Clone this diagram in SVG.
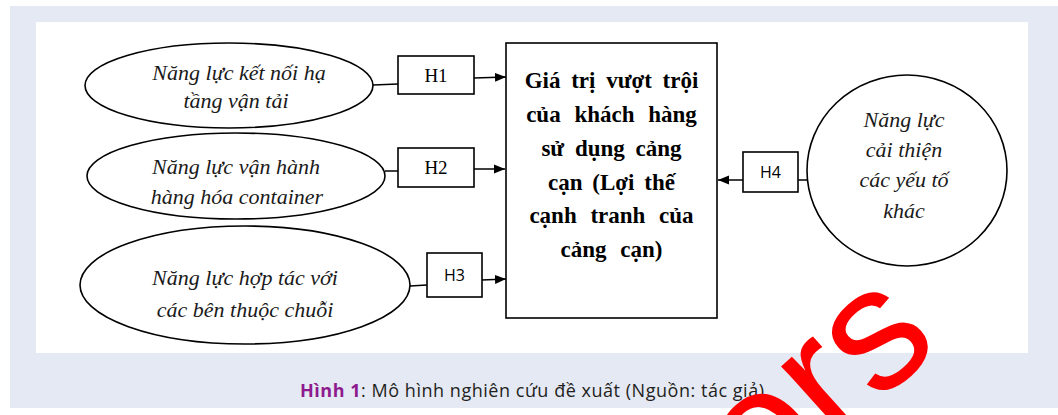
<svg xmlns="http://www.w3.org/2000/svg" width="1058" height="415" viewBox="0 0 1058 415">
  <defs>
    <style>
      .line { stroke: #000; stroke-width: 1.5; fill: none; }
      .shape { stroke: #000; stroke-width: 1.6; fill: #fff; }
      .it { font-family: "Liberation Serif", "DejaVu Serif", "Times New Roman", serif; font-style: italic; font-size: 22px; fill: #1a1a1a; text-anchor: middle; }
      .main { font-family: "Liberation Serif", "DejaVu Serif", "Times New Roman", serif; font-weight: bold; font-size: 23px; fill: #000; text-anchor: middle; }
      .hs { font-family: "Liberation Serif", "Times New Roman", serif; font-size: 19px; fill: #000; text-anchor: middle; }
      .hn { font-family: "Open Sans", "Liberation Sans", sans-serif; font-size: 16px; fill: #000; text-anchor: middle; }
      .cap { font-family: "Open Sans", "Liberation Sans", sans-serif; font-size: 18px; fill: #231f20; }
    </style>
    <marker id="arrow" markerUnits="userSpaceOnUse" markerWidth="12" markerHeight="10" refX="11" refY="5" orient="auto">
      <path d="M0,0.5 L11,5 L0,9.5 z" fill="#000"/>
    </marker>
  </defs>

  <!-- page background and figure panel -->
  <rect x="0" y="0" width="1058" height="415" fill="#ffffff"/>
  <rect x="10" y="6" width="1048" height="402" fill="#e5e9f4"/>
  <rect x="36" y="22" width="992" height="331" fill="#ffffff"/>

  <!-- connectors -->
  <g id="connectors">
    <path class="line" d="M373,85 L398,84"/>
    <path class="line" d="M474,78 L506,77" marker-end="url(#arrow)"/>
    <path class="line" d="M385,171 L398,171"/>
    <path class="line" d="M474,169 L505,169" marker-end="url(#arrow)"/>
    <path class="line" d="M410,286 L427,285"/>
    <path class="line" d="M482,280 L506,279" marker-end="url(#arrow)"/>
    <path class="line" d="M798,180 L807,180"/>
    <path class="line" d="M743,180 L718,180" marker-end="url(#arrow)"/>
  </g>

  <!-- left factors -->
  <g id="node-ket-noi">
    <ellipse class="shape" cx="229" cy="85.5" rx="144" ry="42.5"/>
    <text class="it" x="239" y="80">Năng lực kết nối hạ</text>
    <text class="it" x="236" y="108">tầng vận tải</text>
  </g>
  <g id="node-van-hanh">
    <ellipse class="shape" cx="236" cy="176" rx="149" ry="43"/>
    <text class="it" x="236" y="174">Năng lực vận hành</text>
    <text class="it" x="237" y="204">hàng hóa container</text>
  </g>
  <g id="node-hop-tac">
    <ellipse class="shape" cx="245" cy="285" rx="165" ry="59"/>
    <text class="it" x="245" y="285">Năng lực hợp tác với</text>
    <text class="it" x="245" y="317">các bên thuộc chuỗi</text>
  </g>

  <!-- hypothesis labels -->
  <g id="node-h1">
    <rect class="shape" x="398" y="56" width="76" height="38"/>
    <text class="hs" x="436" y="82">H1</text>
  </g>
  <g id="node-h2">
    <rect class="shape" x="398" y="148" width="76" height="39"/>
    <text class="hs" x="436" y="174">H2</text>
  </g>
  <g id="node-h3">
    <rect class="shape" x="427" y="253" width="55" height="44"/>
    <text class="hn" x="454.5" y="281">H3</text>
  </g>
  <g id="node-h4">
    <rect class="shape" x="743" y="152" width="55" height="40"/>
    <text class="hn" x="770.5" y="178">H4</text>
  </g>

  <!-- outcome -->
  <g id="node-gia-tri">
    <rect class="shape" x="506" y="43" width="211" height="275"/>
    <text class="main" x="611.5" y="88" word-spacing="5">Giá trị vượt trội</text>
    <text class="main" x="611.5" y="122" word-spacing="8">của khách hàng</text>
    <text class="main" x="611.5" y="155.5" word-spacing="5">sử dụng cảng</text>
    <text class="main" x="611.5" y="189.5" word-spacing="4">cạn (Lợi thế</text>
    <text class="main" x="611.5" y="223" word-spacing="8">cạnh tranh của</text>
    <text class="main" x="611.5" y="257" word-spacing="8">cảng cạn)</text>
  </g>

  <!-- right factor -->
  <g id="node-cai-thien">
    <ellipse class="shape" cx="907" cy="170.5" rx="100" ry="95.5"/>
    <text class="it" x="904" y="127">Năng lực</text>
    <text class="it" x="904" y="157">cải thiện</text>
    <text class="it" x="904" y="187">các yếu tố</text>
    <text class="it" x="904" y="218">khác</text>
  </g>

  <!-- caption -->
  <text class="cap" x="532" y="397" text-anchor="middle" textLength="464"><tspan font-weight="bold" fill="#8e1b8e">Hình 1</tspan>: Mô hình nghiên cứu đề xuất (Nguồn: tác giả)</text>

  <!-- watermark fragment -->
  <text x="762" y="508" transform="rotate(-42 762 508)" font-family="Liberation Sans, Arial, sans-serif" font-size="175" fill="#ff0000">ers</text>
</svg>
